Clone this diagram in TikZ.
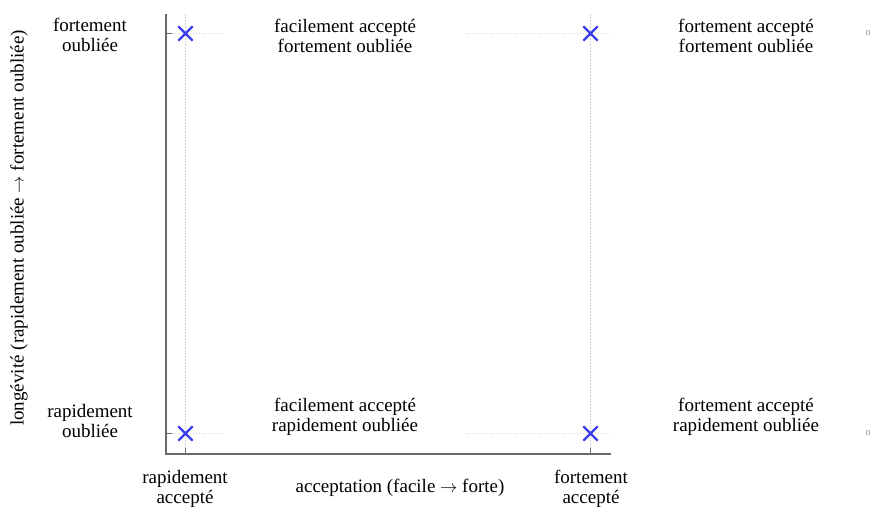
\documentclass[tikz,border=0pt]{standalone}
\usepackage{fontspec}
\setmainfont{Liberation Serif}
\usetikzlibrary{shapes.misc}
\definecolor{axisgray}{RGB}{105,105,105}
\definecolor{gridgray}{RGB}{210,210,210}
\definecolor{markblue}{RGB}{60,60,235}
\tikzset{
  lbl/.style={align=center, inner sep=1pt, font=\fontsize{19}{19.5}\selectfont},
  celllbl/.style={lbl, fill=white, minimum width=240pt},
  gridline/.style={draw=gridgray, line width=0.9pt, dash pattern=on 1.5pt off 1.5pt},
  axisline/.style={draw=axisgray, line width=2pt},
  tickmark/.style={draw=axisgray, line width=1pt},
  xmark/.style={cross out, draw=markblue, line width=2.3pt, minimum size=12pt, inner sep=0pt},
  edgelbl/.style={anchor=west, inner sep=0pt, text=gray!85, font=\fontsize{10}{10}\selectfont},
}
\begin{document}
\begin{tikzpicture}[x=1pt, y=-1pt]
\useasboundingbox (0,0) rectangle (872,506);

% axis corners
\coordinate (O) at (165.5,454);
\coordinate (ytop) at (165.5,14);
\coordinate (xend) at (611,454);

% grid positions
\coordinate (gxa) at (185.5,14);
\coordinate (gxab) at (185.5,454);
\coordinate (gxb) at (590.5,14);
\coordinate (gxbb) at (590.5,454);
\coordinate (gyt) at (165.5,33.5);
\coordinate (gyte) at (611,33.5);
\coordinate (gyb) at (165.5,433.5);
\coordinate (gybe) at (611,433.5);

% dotted grid
\draw[gridline] (gxa) -- (gxab);
\draw[gridline] (gxb) -- (gxbb);
\draw[gridline] (gyt) -- (gyte);
\draw[gridline] (gyb) -- (gybe);

% cell labels (white boxes hide the grid behind them)
\node[celllbl] (tl) at (345,36) {facilement accepté\\fortement oubliée};
\node[celllbl] (bl) at (345,417) {facilement accepté\\rapidement oubliée};
\node[lbl] (tr) at (746,36) {fortement accepté\\fortement oubliée};
\node[lbl] (br) at (746,417) {fortement accepté\\rapidement oubliée};

% axes
\draw[axisline] (ytop) -- (O) -- (xend);

% ticks
\draw[tickmark] (gyt) -- ++(6,0);
\draw[tickmark] (gyb) -- ++(6,0);
\draw[tickmark] (gxab) -- ++(0,-6);
\draw[tickmark] (gxbb) -- ++(0,-6);

% data points
\node[xmark] (p1) at (185.5,33.5) {};
\node[xmark] (p2) at (590.5,33.5) {};
\node[xmark] (p3) at (185.5,433.5) {};
\node[xmark] (p4) at (590.5,433.5) {};

% tick labels
\node[lbl] (yt) at (90,35) {fortement\\oubliée};
\node[lbl] (yb) at (90,421) {rapidement\\oubliée};
\node[lbl] (xa) at (185,489) {rapidement\\accepté};
\node[lbl] (xb) at (591,489) {fortement\\accepté};

% axis titles
\node[lbl] (xtitle) at (400,488) {acceptation (facile $\rightarrow$ forte)};
\node[lbl, rotate=90] (ytitle) at (19,228) {longévité (rapidement oubliée $\rightarrow$ fortement oubliée)};

% clipped labels at the right edge
\node[edgelbl] (edge1) at (865.5,33) {n};
\node[edgelbl] (edge2) at (865.5,433) {n};
\end{tikzpicture}
\end{document}
